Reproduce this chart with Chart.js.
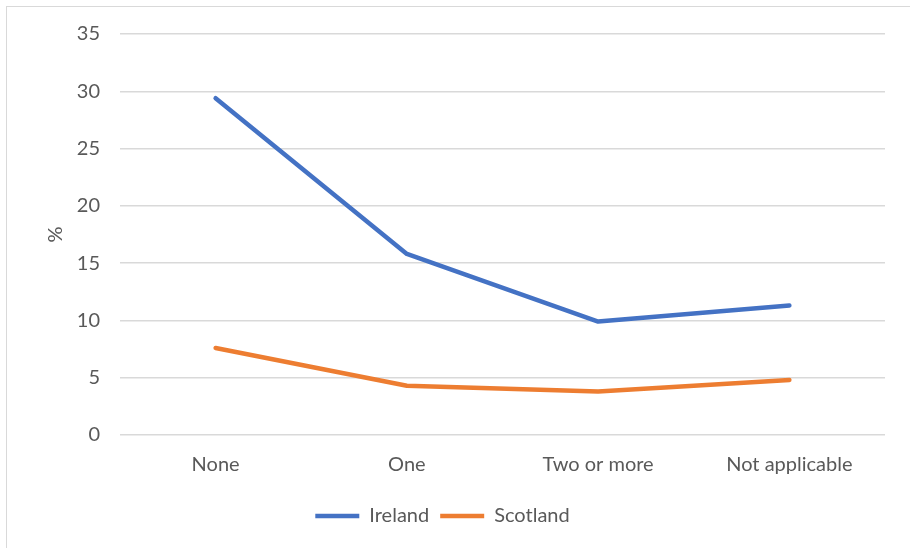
<!DOCTYPE html>
<html>
<head>
<meta charset="utf-8">
<script src="https://cdn.jsdelivr.net/npm/chart.js@4/dist/chart.umd.min.js"></script>
<style>
  html, body { margin: 0; padding: 0; background: #fff; }
  #wrap { position: relative; width: 910px; height: 548px; overflow: hidden; }
  #frame { position: absolute; left: 6px; top: 6px; width: 1000px; height: 1000px; border: 1.5px solid #d9d9d9; box-sizing: border-box; }
  canvas { position: absolute; left: 0; top: 0; }
</style>
</head>
<body>
<div id="wrap">
  <div id="frame"></div>
  <canvas id="chart" width="910" height="548"></canvas>
</div>
<script>
var categories = ['None', 'One', 'Two or more', 'Not applicable'];
var ireland = [29.4, 15.8, 9.9, 11.3];
var scotland = [7.6, 4.3, 3.8, 4.8];
var yTicks = [0, 5, 10, 15, 20, 25, 30, 35];

var font = 'Lato, "Open Sans", sans-serif';
var grey = '#595959';

var ctx = document.getElementById('chart').getContext('2d');
var line = new Chart(ctx, {
    type: 'line',
    data: {
        labels: categories,
        datasets: [
            { label: 'Ireland', data: ireland, borderColor: '#4472C4', backgroundColor: '#4472C4',
              borderWidth: 4.5, pointRadius: 0, borderCapStyle: 'round', borderJoinStyle: 'round', tension: 0 },
            { label: 'Scotland', data: scotland, borderColor: '#ED7D31', backgroundColor: '#ED7D31',
              borderWidth: 4.5, pointRadius: 0, borderCapStyle: 'round', borderJoinStyle: 'round', tension: 0 }
        ]
    },
    options: {
        responsive: false,
        animation: false,
        layout: { padding: { left: 0, right: 25, top: 34, bottom: 12 } },
        plugins: {
            tooltip: { enabled: false },
            legend: {
                position: 'bottom',
                labels: {
                    usePointStyle: true,
                    pointStyle: 'line',
                    pointStyleWidth: 44,
                    padding: 11,
                    color: grey,
                    font: { family: font, size: 20 }
                }
            }
        },
        scales: {
            x: {
                offset: true,
                grid: { display: false, drawTicks: false },
                border: { display: false },
                ticks: { color: grey, font: { family: font, size: 20 }, padding: 18 }
            },
            y: {
                min: 0,
                max: 35,
                afterBuildTicks: function(axis) {
                    axis.ticks = yTicks.map(function(v) { return { value: v }; });
                },
                afterFit: function(axis) { axis.width = 120; },
                grid: { color: '#d9d9d9', lineWidth: 1.5, drawTicks: false },
                border: { display: false },
                ticks: { color: grey, font: { family: font, size: 20 }, padding: 20 },
                title: { display: true, text: '%', color: grey, font: { family: font, size: 20 }, padding: { top: 44, bottom: 0 } }
            }
        }
    }
});
</script>
</body>
</html>
